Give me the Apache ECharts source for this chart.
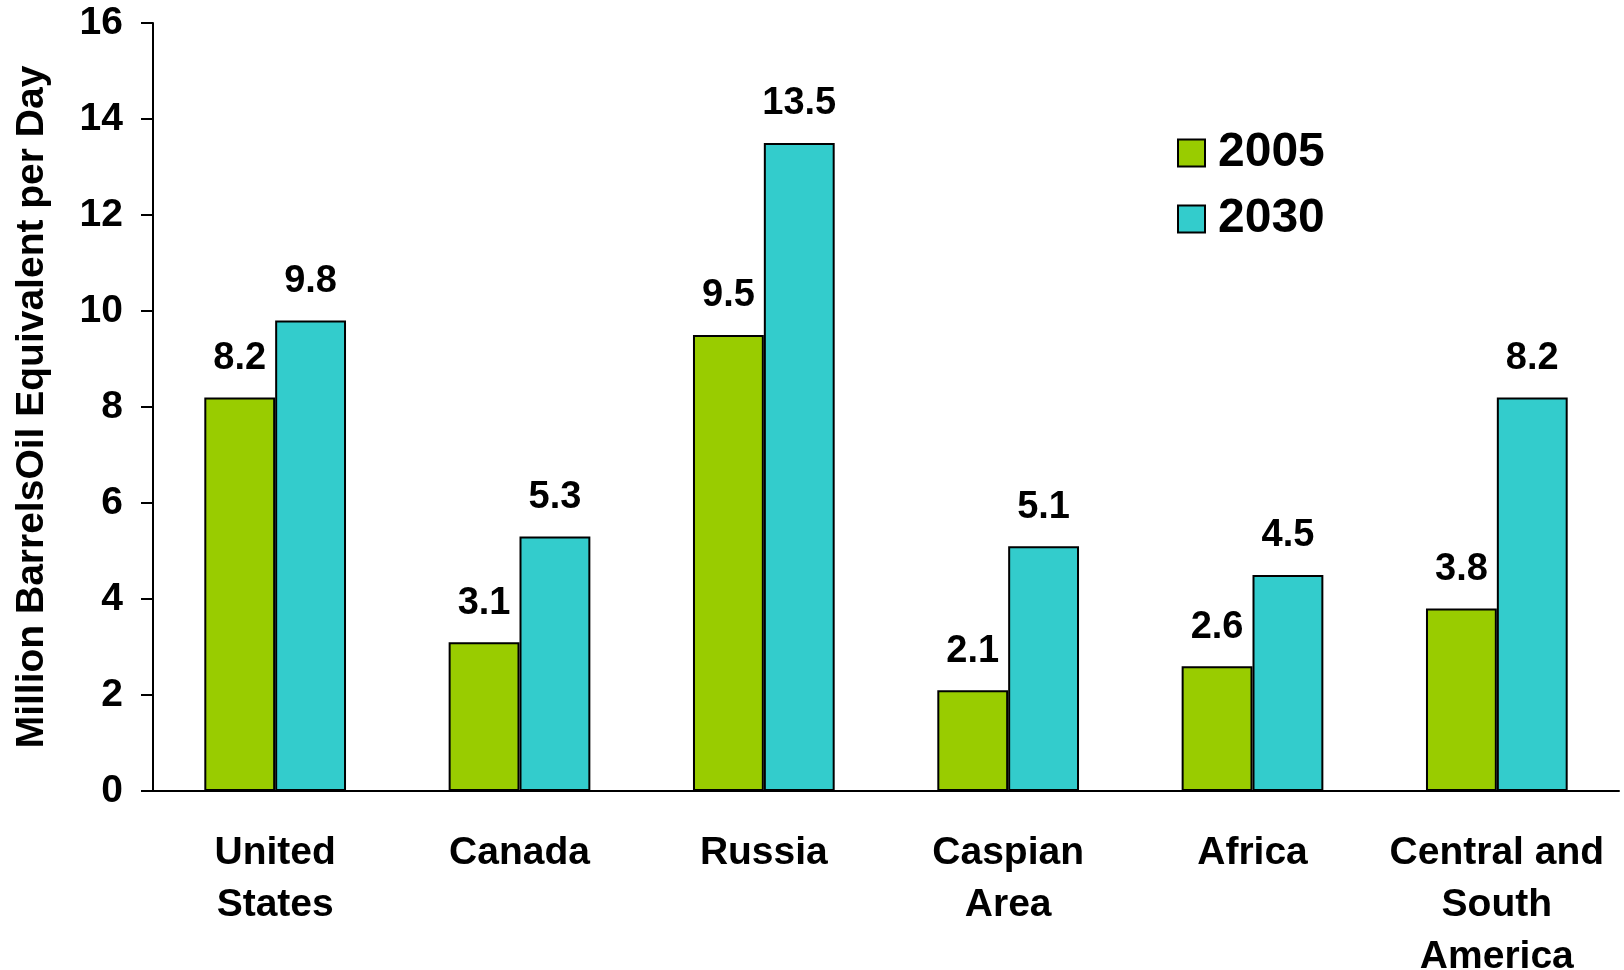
<!DOCTYPE html>
<html>
<head>
<meta charset="utf-8">
<title>Oil Production by Region</title>
<script src="https://cdn.jsdelivr.net/npm/echarts@6/dist/echarts.min.js"></script>
<style>
  html, body { margin: 0; padding: 0; background: #ffffff; }
  #chart { width: 1624px; height: 970px; }
</style>
</head>
<body>
<div id="chart"></div>
<script>
// Regions shown along the horizontal axis
const regions = ['United\nStates', 'Canada', 'Russia', 'Caspian\nArea', 'Africa', 'Central and\nSouth\nAmerica'];
// Production, million barrels oil equivalent per day
const values2005 = [8.2, 3.1, 9.5, 2.1, 2.6, 3.8];
const values2030 = [9.8, 5.3, 13.5, 5.1, 4.5, 8.2];
const seriesNames = ['2005', '2030'];
const yTicks = [0, 2, 4, 6, 8, 10, 12, 14, 16];

const FONT = "'Liberation Sans', Arial, sans-serif";

const chart = echarts.init(document.getElementById('chart'), null, { renderer: 'canvas' });

const labelStyle = {
  show: true,
  position: 'top',
  distance: 20,
  color: '#000',
  fontFamily: FONT,
  fontWeight: 'bold',
  fontSize: 38,
  formatter: p => p.value.toFixed(1)
};

chart.setOption({
  animation: false,
  backgroundColor: '#ffffff',
  textStyle: { fontFamily: FONT },
  grid: {
    left: 153, right: 5, top: 23, bottom: 179,
    containLabel: false,
    outerBoundsMode: 'none'
  },
  legend: {
    orient: 'vertical',
    left: 1172,
    top: 124,
    itemWidth: 27,
    itemHeight: 27,
    itemGap: 18,
    icon: 'rect',
    data: seriesNames,
    textStyle: {
      color: '#000',
      fontFamily: FONT,
      fontWeight: 'bold',
      fontSize: 48,
      lineHeight: 48,
      padding: [0, 0, 0, 8]
    }
  },
  xAxis: {
    type: 'category',
    data: regions,
    axisLine: { show: true, lineStyle: { color: '#000', width: 2 } },
    axisTick: { show: false },
    axisLabel: {
      interval: 0,
      margin: 36,
      color: '#000',
      fontFamily: FONT,
      fontWeight: 'bold',
      fontSize: 39,
      lineHeight: 52
    }
  },
  yAxis: {
    type: 'value',
    min: yTicks[0],
    max: yTicks[yTicks.length - 1],
    interval: 2,
    name: 'Million BarrelsOil Equivalent per Day',
    nameLocation: 'middle',
    nameGap: 101,
    nameRotate: 90,
    nameTextStyle: {
      color: '#000',
      fontFamily: FONT,
      fontWeight: 'bold',
      fontSize: 39
    },
    splitLine: { show: false },
    axisLine: { show: true, lineStyle: { color: '#000', width: 2 } },
    axisTick: { show: true, inside: false, length: 12, lineStyle: { color: '#000', width: 2 } },
    axisLabel: {
      margin: 30,
      color: '#000',
      fontFamily: FONT,
      fontWeight: 'bold',
      fontSize: 39
    }
  },
  series: [
    {
      name: seriesNames[0],
      type: 'bar',
      data: values2005,
      barGap: '0%',
      barCategoryGap: '42%',
      itemStyle: { color: '#99CC00', borderColor: '#000', borderWidth: 2 },
      label: labelStyle
    },
    {
      name: seriesNames[1],
      type: 'bar',
      data: values2030,
      barGap: '0%',
      barCategoryGap: '42%',
      itemStyle: { color: '#33CCCC', borderColor: '#000', borderWidth: 2 },
      label: labelStyle
    }
  ]
});
</script>
</body>
</html>
